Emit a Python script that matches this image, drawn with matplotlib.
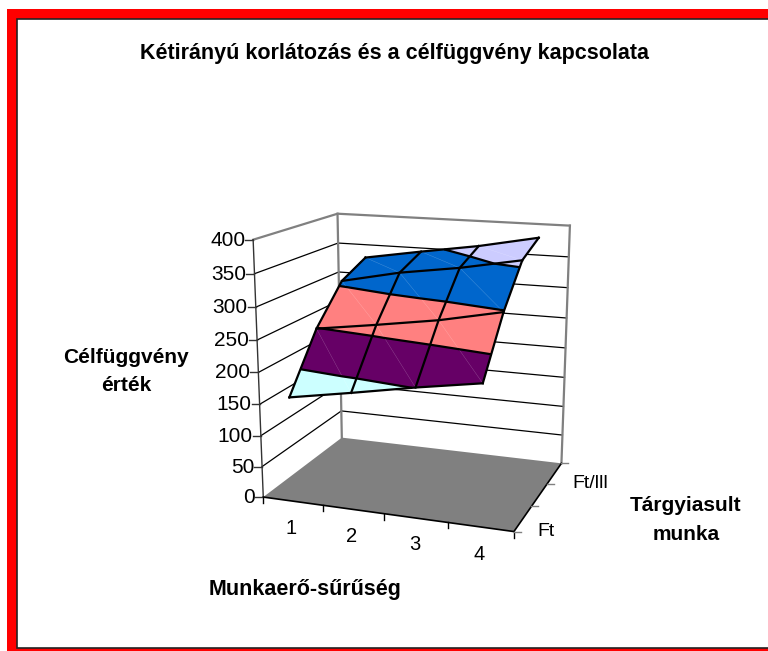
import numpy as np
import matplotlib
matplotlib.use("Agg")
import matplotlib.pyplot as plt
from matplotlib.patches import Polygon, Rectangle
from matplotlib.tri import Triangulation

plt.rcParams['font.family'] = ['Liberation Sans', 'DejaVu Sans']

# --- Data ---
title = "Kétirányú korlátozás és a célfüggvény kapcsolata"
cat_labels = ['1', '2', '3', '4']
ser_labels = ['Ft', 'Ft/lll']
z_ticks = [0, 50, 100, 150, 200, 250, 300, 350, 400]
band_levels = [150, 200, 250, 300, 350, 400]
band_colors = ['#CCFFFF', '#660066', '#FF8080', '#0066CC', '#CCCCFF']
row_1 = [166, 183, 201, 217]
row_2 = [249, 263, 278, 298]
row_3 = [306, 326, 340, 358]
row_4 = [328, 344, 359, 378]

# --- Camera from the box corners (Excel 3D view has perspective) ---
world = np.array([(0, 0, 0), (4, 0, 0), (4, 3, 0), (0, 3, 0), (0, 0, 400), (0, 3, 400), (4, 3, 400)], float)
pix = np.array([(263.5, 497.5), (513.5, 531.5), (561.7, 463.3), (341.7, 437.3), (253.3, 239.3), (337.3, 214), (570, 225.7)])
A, b = [], []
for (X, D, Z), (u, v) in zip(world, pix):
    A.append([X, D, Z, 1, 0, 0, 0, 0, -u*X, -u*D, -u*Z]); b.append(u)
    A.append([0, 0, 0, 0, X, D, Z, 1, -v*X, -v*D, -v*Z]); b.append(v)
P = np.append(np.linalg.lstsq(np.array(A), np.array(b), rcond=None)[0], 1).reshape(3, 4)

def project(X, D, Z):
    X, D, Z = np.asarray(X, float), np.asarray(D, float), np.asarray(Z, float)
    w = P[2, 0]*X + P[2, 1]*D + P[2, 2]*Z + P[2, 3]
    return (P[0, 0]*X + P[0, 1]*D + P[0, 2]*Z + P[0, 3])/w, (P[1, 0]*X + P[1, 1]*D + P[1, 2]*Z + P[1, 3])/w

ZZ = np.array([row_1, row_2, row_3, row_4], float)
XX, DD = np.meshgrid(np.arange(4) + 0.5, np.arange(4.0))

fig = plt.figure(figsize=(7.68, 6.51), dpi=100)
ax = fig.add_axes([0, 0, 1, 1])
ax.set_xlim(0, 768)
ax.set_ylim(651, 0)
ax.axis('off')

# red frame
ax.add_patch(Rectangle((7, 9), 780, 660, fc='#FF0000', ec='none', zorder=0))
ax.add_patch(Rectangle((17, 19), 780, 628.5, fc='white', ec='#222222', lw=1.2, zorder=0.5))

# --- Floor and walls ---
fx, fy = project([0, 4, 4, 0], [0, 0, 3, 3], [0, 0, 0, 0])
ax.add_patch(Polygon(np.c_[fx, fy], fc='#808080', ec='none', zorder=1))
for z in z_ticks[1:]:
    gx, gy = project([0, 0, 4], [0, 3, 3], [z, z, z])
    col, lw = ('#808080', 1.6) if z == 400 else ('black', 0.9)
    ax.plot(gx, gy, color=col, lw=lw, zorder=1.5)
for X in [0, 4]:
    gx, gy = project([X, X], [3, 3], [0, 400])
    ax.plot(gx, gy, color='#808080', lw=1.6, zorder=1.5)
gx, gy = project([0, 0], [0, 0], [0, 400])
ax.plot(gx, gy, color='#333333', lw=1.0, zorder=1.6)
gx, gy = project([0, 4, 4], [0, 0, 3], [0, 0, 0])
ax.plot(gx, gy, color='black', lw=1.2, zorder=1.6)

# --- Ticks and labels ---
for z in z_ticks:
    gx, gy = project(0, 0, z)
    ax.plot([gx - 8, gx], [gy, gy], color='#333333', lw=1.0, zorder=1.6)
    ax.text(gx - 8, gy + 0.5, str(z), ha='right', va='center', fontsize=15)
for X in range(5):
    gx, gy = project(X, 0, 0)
    ax.plot([gx, gx], [gy, gy + 6], color='black', lw=1.0, zorder=1.6)
for D in range(4):
    gx, gy = project(4, D, 0)
    ax.plot([gx, gx + 7], [gy, gy], color='#808080', lw=1.0, zorder=1.6)
for lab, (tx, ty) in zip(cat_labels, [(291, 529), (352, 537), (415, 545), (479, 555)]):
    ax.text(tx, ty, lab, ha='center', va='center', fontsize=14.5)
for lab, (tx, ty) in zip(ser_labels, [(546, 531), (590, 484)]):
    ax.text(tx, ty, lab, ha='center', va='center', fontsize=14)

# --- Surface ---
sx, sy = project(XX, DD, ZZ)
tris = []
for i in range(3):
    for j in range(3):
        n1, n2, n3, n4 = i*4 + j, i*4 + j + 1, (i + 1)*4 + j, (i + 1)*4 + j + 1
        tris += [[n1, n2, n3], [n2, n4, n3]]
tri = Triangulation(sx.ravel(), sy.ravel(), tris)
ax.tricontourf(tri, ZZ.ravel(), levels=band_levels, colors=band_colors, extend='neither', zorder=2)
ax.tricontour(tri, ZZ.ravel(), levels=band_levels[1:-1], colors='black', linewidths=1.6, zorder=3)
for i in range(3):
    for j in range(3):
        ax.plot([sx[i, j + 1], sx[i + 1, j]], [sy[i, j + 1], sy[i + 1, j]], color='white', lw=0.3, alpha=0.3, zorder=2.5)
for i in range(4):
    ax.plot(sx[i], sy[i], color='black', lw=1.6, zorder=3)
    ax.plot(sx[:, i], sy[:, i], color='black', lw=1.6, zorder=3)

# --- Titles ---
ax.text(394.5, 54, title, ha='center', va='center', fontsize=15.5, fontweight='bold')
ax.text(126, 371.5, "Célfüggvény\nérték", ha='center', va='center', fontsize=15, fontweight='bold', linespacing=1.55)
ax.text(305, 590, "Munkaerő-sűrűség", ha='center', va='center', fontsize=15.5, fontweight='bold')
ax.text(686, 520, "Tárgyiasult\nmunka", ha='center', va='center', fontsize=15, fontweight='bold', linespacing=1.7)

fig.savefig('out.png', dpi=100)
